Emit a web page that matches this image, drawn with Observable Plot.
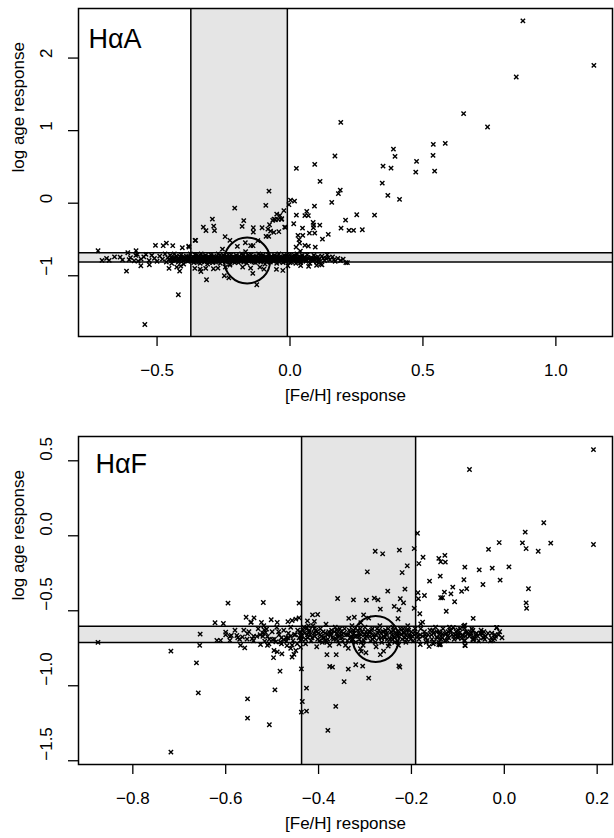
<!DOCTYPE html>
<html><head><meta charset="utf-8">
<script src="https://cdn.jsdelivr.net/npm/d3@7"></script>
<script src="https://cdn.jsdelivr.net/npm/@observablehq/plot@0.6"></script>
<style>
html,body{margin:0;padding:0;background:#fff;}
#chart{width:614px;}
#chart svg{display:block;}
</style></head><body><div id="chart"></div>
<script>
const FONT = "'Liberation Sans', Arial, Helvetica, sans-serif";
const panelTitles = ["HαA", "HαF"];
const xAxisTitle = "[Fe/H] response";
const yAxisTitle = "log age response";

const topXTicks = [-0.5, 0, 0.5, 1.0];
const topXTickLabels = ["−0.5", "0.0", "0.5", "1.0"];
const topYTicks = [-1, 0, 1, 2];
const topYTickLabels = ["−1", "0", "1", "2"];
const botXTicks = [-0.8, -0.6, -0.4, -0.2, 0, 0.2];
const botXTickLabels = ["−0.8", "−0.6", "−0.4", "−0.2", "0.0", "0.2"];
const botYTicks = [-1.5, -1, -0.5, 0, 0.5];
const botYTickLabels = ["−1.5", "−1.0", "−0.5", "0.0", "0.5"];

const topXDomain = [-0.7955, 1.213];
const topYDomain = [-1.837, 2.683];
const botXDomain = [-0.917, 0.233];
const botYDomain = [-1.525, 0.662];

const topVBand = [-0.373, -0.01];
const topHBand = [-0.812, -0.683];
const botVBand = [-0.4366, -0.191];
const botHBand = [-0.711, -0.603];
const topCircle = [-0.161, -0.789];
const botCircle = [-0.277, -0.688];

// HαA: scattered points
const haASpread = [
[0.876,2.512],[1.143,1.90],[0.851,1.739],[0.653,1.234],[0.743,1.05],[0.191,1.114],[0.539,0.811],[0.584,0.825],[0.389,0.746],[0.395,0.646],[0.538,0.659],[0.169,0.65],[0.093,0.535],[0.35,0.512],[0.38,0.484],[0.476,0.577],[0.473,0.429],[0.544,0.443],[0.113,0.301],[0.347,0.277],[0.189,0.181],[0.182,0.131],[0.368,0.108],[0.412,0.052],[0.157,0.011],[0.092,-0.04],
[0.024,0.48],[0.002,0.043],[0.017,0.029],[-0.004,-0.021],[-0.023,-0.103],[-0.031,-0.214],[0.063,-0.113],[0.024,-0.164],[0.056,-0.172],[0.069,-0.172],[0.251,-0.159],[0.318,-0.164],[0.209,-0.233],[0.014,-0.283],[0.087,-0.265],[0.089,-0.302],[0.088,-0.338],[0.112,-0.302],[-0.02,-0.33],[0.047,-0.343],[0.192,-0.343],[0.222,-0.375],[0.239,-0.375],[0.272,-0.366],[0.073,-0.412],[0.093,-0.412],[0.144,-0.43],[0.03,-0.444],[0.048,-0.444],[0.122,-0.495],[0.034,-0.503],[0.036,-0.55],[0.023,-0.605],[0.056,-0.582],[0.069,-0.591],[0.095,-0.605],[0.039,-0.66],[0.216,-0.82],
[-0.079,0.167],[-0.091,-0.03],[-0.208,-0.068],
[-0.292,-0.219],[-0.174,-0.241],[-0.05,-0.15],[-0.038,-0.168],[-0.06,-0.219],[-0.055,-0.228],[-0.044,-0.223],[-0.032,-0.223],
[-0.326,-0.33],[-0.316,-0.379],[-0.287,-0.316],[-0.284,-0.379],[-0.18,-0.32],[-0.138,-0.338],[-0.138,-0.399],[-0.105,-0.338],[-0.083,-0.357],[-0.077,-0.297],[-0.065,-0.237],[-0.073,-0.385],[-0.061,-0.403],[-0.042,-0.393],[-0.08,-0.458],[-0.09,-0.458],[-0.017,-0.334],
[-0.244,-0.462],[-0.355,-0.513],[-0.226,-0.513],[-0.168,-0.545],[-0.148,-0.586],[-0.139,-0.586],[-0.121,-0.517],[-0.381,-0.592],[-0.254,-0.633],[-0.198,-0.596],[-0.167,-0.669],
[-0.358,-0.899],[-0.338,-0.909],[-0.317,-0.899],[-0.288,-0.903],[-0.271,-0.895],[-0.243,-0.881],[-0.226,-0.854],[-0.178,-0.881],[-0.148,-0.895],[-0.113,-0.881],[-0.098,-0.909],[-0.051,-0.913],[-0.027,-0.927],[-0.008,-0.862],
[-0.335,-0.941],[-0.314,-1.055],[-0.247,-1.0],[-0.14,-0.968],[-0.125,-1.124],[-0.23,-1.028],
[-0.722,-0.655],[-0.707,-0.789],[-0.68,-0.789],[-0.639,-0.743],[-0.615,-0.937],[-0.61,-0.683],[-0.579,-0.655],[-0.574,-0.706],[-0.605,-0.779],[-0.586,-0.793],[-0.571,-0.799],[-0.542,-0.706],[-0.506,-0.582],[-0.465,-0.55],[-0.441,-0.586],[-0.405,-0.614],[-0.477,-0.586],[-0.546,-1.672],[-0.42,-1.262],[-0.561,-0.862],[-0.529,-0.848],[-0.455,-0.899],[-0.415,-0.937],[-0.411,-0.868],[-0.426,-0.881],[-0.38,-0.605],[-0.357,-0.513],
[0.04,-0.86],[0.07,-0.87],[0.1,-0.855],[0.12,-0.85]
];

// HαA: dense band of points
const haABand = [
[-0.69,-0.76],[-0.66,-0.74],[-0.63,-0.78],[-0.60,-0.75],[-0.58,-0.72],[-0.56,-0.77],[-0.55,-0.74],[-0.53,-0.79],[-0.52,-0.72],[-0.51,-0.76],[-0.50,-0.80],[-0.49,-0.73],[-0.48,-0.77],[-0.47,-0.70],[-0.465,-0.81],[-0.46,-0.75],
[-0.455,-0.78],[-0.45,-0.72],[-0.445,-0.83],[-0.44,-0.76],[-0.435,-0.70],[-0.43,-0.79],[-0.425,-0.74],[-0.42,-0.81],[-0.415,-0.77],[-0.41,-0.71],[-0.405,-0.75],[-0.40,-0.84],[-0.395,-0.78],[-0.39,-0.73],[-0.385,-0.80],[-0.38,-0.76],[-0.375,-0.70],
[-0.37,-0.79],[-0.366,-0.74],[-0.362,-0.82],[-0.358,-0.71],[-0.354,-0.77],[-0.35,-0.80],[-0.346,-0.73],[-0.342,-0.76],[-0.338,-0.83],[-0.334,-0.70],[-0.33,-0.78],[-0.326,-0.75],[-0.322,-0.81],[-0.318,-0.72],[-0.314,-0.77],[-0.31,-0.84],[-0.306,-0.74],[-0.302,-0.79],[-0.298,-0.71],[-0.294,-0.76],[-0.29,-0.82],[-0.286,-0.73],[-0.282,-0.78],[-0.278,-0.75],[-0.274,-0.80],[-0.27,-0.70],[-0.266,-0.77],[-0.262,-0.83],[-0.258,-0.74],[-0.254,-0.79],[-0.25,-0.72],[-0.246,-0.76],[-0.242,-0.81],[-0.238,-0.73],[-0.234,-0.78],[-0.23,-0.75],[-0.226,-0.84],[-0.222,-0.71],[-0.218,-0.77],[-0.214,-0.80],[-0.21,-0.74],[-0.206,-0.79],[-0.202,-0.72],[-0.198,-0.76],[-0.194,-0.82],[-0.19,-0.73],[-0.186,-0.78],[-0.182,-0.70],[-0.178,-0.75],[-0.174,-0.81],[-0.17,-0.77],[-0.166,-0.74],[-0.162,-0.83],[-0.158,-0.72],[-0.154,-0.79],[-0.15,-0.76],[-0.146,-0.71],[-0.142,-0.80],[-0.138,-0.74],[-0.134,-0.78],[-0.13,-0.82],[-0.126,-0.73],[-0.122,-0.77],[-0.118,-0.70],[-0.114,-0.75],[-0.11,-0.81],[-0.106,-0.76],[-0.102,-0.72],[-0.098,-0.79],[-0.094,-0.84],[-0.09,-0.74],[-0.086,-0.78],[-0.082,-0.71],[-0.078,-0.76],[-0.074,-0.81],[-0.07,-0.73],[-0.066,-0.77],[-0.062,-0.80],[-0.058,-0.72],[-0.054,-0.75],[-0.05,-0.83],[-0.046,-0.78],[-0.042,-0.70],[-0.038,-0.74],[-0.034,-0.79],[-0.03,-0.76],[-0.026,-0.82],[-0.022,-0.72],[-0.018,-0.77],[-0.014,-0.80],[-0.01,-0.74],[-0.006,-0.78],[-0.002,-0.71],[0.002,-0.76],[0.006,-0.81],[0.01,-0.73],[0.014,-0.78],[0.018,-0.75],[0.022,-0.83],[0.026,-0.70],[0.03,-0.77],[0.034,-0.80],[0.038,-0.74],[0.042,-0.79],[0.046,-0.72],[0.05,-0.76],
[-0.368,-0.77],[-0.36,-0.75],[-0.352,-0.72],[-0.344,-0.81],[-0.336,-0.76],[-0.328,-0.73],[-0.32,-0.79],[-0.312,-0.75],[-0.304,-0.82],[-0.296,-0.78],[-0.288,-0.74],[-0.28,-0.81],[-0.272,-0.76],[-0.264,-0.72],[-0.256,-0.80],[-0.248,-0.78],[-0.24,-0.75],[-0.232,-0.71],[-0.224,-0.79],[-0.216,-0.74],[-0.208,-0.82],[-0.2,-0.77],[-0.192,-0.75],[-0.184,-0.80],[-0.176,-0.72],[-0.168,-0.79],[-0.16,-0.76],[-0.152,-0.73],[-0.144,-0.77],[-0.136,-0.81],[-0.128,-0.75],[-0.12,-0.79],[-0.112,-0.72],[-0.104,-0.78],[-0.096,-0.75],[-0.088,-0.81],[-0.08,-0.77],[-0.072,-0.74],[-0.064,-0.79],[-0.056,-0.76],[-0.048,-0.73],[-0.04,-0.81],[-0.032,-0.77],[-0.024,-0.75],[-0.016,-0.79],[-0.008,-0.73],[0.0,-0.82],[0.008,-0.77],[0.016,-0.72],[0.024,-0.79],[0.032,-0.74],[0.04,-0.82],[0.048,-0.78],
[0.055,-0.74],[0.06,-0.80],[0.065,-0.71],[0.07,-0.77],[0.075,-0.83],[0.08,-0.75],[0.085,-0.79],[0.09,-0.72],[0.095,-0.78],[0.10,-0.81],[0.105,-0.74],[0.11,-0.77],[0.115,-0.84],[0.12,-0.73],[0.13,-0.79],[0.135,-0.76],[0.14,-0.71],[0.15,-0.78],[0.16,-0.74],[0.17,-0.80],[0.18,-0.76],[0.19,-0.79],[0.2,-0.77],[0.21,-0.82],
[-0.448,-0.75],[-0.438,-0.78],[-0.428,-0.73],[-0.418,-0.79],[-0.408,-0.77],[-0.398,-0.74],[-0.388,-0.77],[-0.378,-0.79],[-0.364,-0.78],[-0.356,-0.75],[-0.348,-0.78],[-0.34,-0.74],[-0.332,-0.80],[-0.324,-0.77],[-0.316,-0.74],[-0.308,-0.77],[-0.3,-0.75],[-0.292,-0.79],[-0.284,-0.76],[-0.276,-0.78],[-0.268,-0.74],[-0.26,-0.77],[-0.252,-0.75],[-0.244,-0.79],[-0.236,-0.76],[-0.228,-0.78],[-0.22,-0.75],[-0.212,-0.77],[-0.204,-0.75],[-0.196,-0.79],[-0.188,-0.76],[-0.18,-0.78],[-0.172,-0.75],[-0.164,-0.78],[-0.156,-0.75],[-0.148,-0.78],[-0.14,-0.76],[-0.132,-0.74],[-0.124,-0.79],[-0.116,-0.77],[-0.108,-0.74],[-0.1,-0.77],[-0.092,-0.76],[-0.084,-0.74],[-0.076,-0.79],[-0.068,-0.75],[-0.06,-0.77],[-0.052,-0.74],[-0.044,-0.77],[-0.036,-0.76],[-0.028,-0.78],[-0.02,-0.74],[-0.012,-0.77],[-0.004,-0.75],[0.004,-0.78],[0.012,-0.76],[0.02,-0.78],[0.028,-0.75],[0.036,-0.77],[0.044,-0.75],[0.058,-0.77],[0.068,-0.75],[0.078,-0.78],[0.088,-0.76],[0.098,-0.75],[0.108,-0.79],[0.125,-0.76],[0.145,-0.75],[0.165,-0.78],
[-0.446,-0.79],[-0.432,-0.76],[-0.422,-0.77],[-0.412,-0.74],[-0.402,-0.79],[-0.392,-0.76],[-0.382,-0.74],[-0.371,-0.76],[-0.361,-0.79],[-0.351,-0.76],[-0.343,-0.79],[-0.335,-0.77],[-0.327,-0.79],[-0.319,-0.76],[-0.311,-0.79],[-0.303,-0.76],[-0.295,-0.74],[-0.287,-0.77],[-0.279,-0.79],[-0.271,-0.78],[-0.263,-0.76],[-0.255,-0.77],[-0.247,-0.74],[-0.239,-0.77],[-0.231,-0.79],[-0.223,-0.76],[-0.215,-0.78],[-0.207,-0.76],[-0.199,-0.78],[-0.191,-0.77],[-0.183,-0.75],[-0.175,-0.78],[-0.167,-0.76],[-0.159,-0.79],[-0.151,-0.77],[-0.143,-0.75],[-0.135,-0.77],[-0.127,-0.79],[-0.119,-0.76],[-0.111,-0.78],[-0.103,-0.75],[-0.095,-0.77],[-0.087,-0.76],[-0.079,-0.78],[-0.071,-0.77],[-0.063,-0.75],[-0.055,-0.78],[-0.047,-0.76],[-0.039,-0.78],[-0.031,-0.75],[-0.023,-0.77],[-0.015,-0.76],[-0.007,-0.79],[0.001,-0.77],[0.009,-0.75],[0.017,-0.77],[0.027,-0.76],[0.037,-0.79],[0.047,-0.76],[0.062,-0.78],[0.082,-0.77],[0.102,-0.76]
];

// HαF: scattered points
const haFSpread = [
[0.192,0.575],[-0.075,0.442],[0.192,-0.058],[0.085,0.087],[0.045,0.024],[-0.011,-0.045],[0.039,-0.047],[0.047,-0.085],[0.1,-0.049],[0.073,-0.103],[-0.034,-0.091],[-0.187,0.017],[-0.194,-0.085],[-0.278,-0.103],[-0.262,-0.12],[-0.226,-0.096],[-0.175,-0.143],[-0.184,-0.185],[-0.141,-0.151],[-0.137,-0.173],[-0.128,-0.131],[-0.127,-0.176],[-0.209,-0.2],[-0.22,-0.245],[-0.295,-0.24],[-0.085,-0.209],[-0.054,-0.227],[-0.026,-0.216],[0.01,-0.207],[-0.138,-0.269],[-0.161,-0.302],[-0.087,-0.293],[-0.009,-0.296],[-0.046,-0.325],[0.052,-0.353],[-0.111,-0.342],[-0.081,-0.353],[-0.092,-0.371],[-0.115,-0.387],[-0.129,-0.376],[-0.214,-0.356],[-0.251,-0.369],[-0.224,-0.42],[-0.217,-0.447],[-0.359,-0.418],[-0.325,-0.427],[-0.297,-0.429],[-0.28,-0.416],[-0.272,-0.427],[-0.186,-0.38],[-0.185,-0.42],[-0.172,-0.398],[-0.137,-0.413],[-0.133,-0.413],[-0.107,-0.44],[-0.267,-0.489],[-0.227,-0.493],[-0.237,-0.471],[-0.125,-0.503],[0.047,-0.447],[0.048,-0.483],[-0.067,-0.551],[-0.194,-0.483],[-0.182,-0.52],[-0.413,-0.527],[-0.402,-0.525],[-0.424,-0.567],[-0.409,-0.571],[-0.335,-0.551],[-0.323,-0.543],[-0.303,-0.527],[-0.292,-0.549],[-0.309,-0.58],[-0.229,-0.553],[-0.016,-0.613],[-0.087,-0.603],[-0.176,-0.576],[-0.18,-0.587],
[-0.875,-0.711],[-0.718,-0.769],[-0.663,-0.847],[-0.659,-1.047],[-0.718,-1.443],[-0.553,-1.087],[-0.553,-1.216],[-0.506,-1.26],[-0.494,-1.027],[-0.483,-0.903],[-0.655,-0.656],[-0.656,-0.731],[-0.619,-0.698],[-0.611,-0.698],[-0.6,-0.643],[-0.591,-0.671],[-0.588,-0.665],[-0.591,-0.698],
[-0.437,-0.887],[-0.435,-1.105],[-0.437,-1.176],[-0.426,-1.169],[-0.426,-1.016],[-0.38,-1.298],[-0.363,-1.138],
[-0.345,-0.973],[-0.292,-0.949],[-0.336,-0.889],[-0.32,-0.86],[-0.305,-0.869],[-0.376,-0.871],[-0.37,-0.876],[-0.227,-0.867],[-0.225,-0.876],
[-0.382,-0.793],[-0.362,-0.793],[-0.308,-0.771],[-0.298,-0.78],[-0.267,-0.793],[-0.26,-0.769],[-0.25,-0.736],[-0.31,-0.753],
[-0.595,-0.449],[-0.519,-0.445],[-0.442,-0.449],[-0.497,-0.813],
[-0.556,-0.543],[-0.539,-0.547],[-0.546,-0.578],[-0.523,-0.578],[-0.502,-0.56],[-0.518,-0.6],[-0.512,-0.622],
[-0.489,-0.578],[-0.466,-0.573],[-0.457,-0.565],[-0.449,-0.556],[-0.442,-0.547],
[-0.623,-0.58],[-0.605,-0.585],[-0.545,-0.576]
];

// HαF: dense band of points
const haFBand = [
[-0.576,-0.665],[-0.574,-0.68],[-0.568,-0.731],[-0.559,-0.747],[-0.554,-0.689],[-0.553,-0.653],[-0.561,-0.629],[-0.564,-0.675],
[-0.543,-0.687],[-0.533,-0.671],[-0.525,-0.725],[-0.516,-0.703],[-0.51,-0.671],[-0.514,-0.645],[-0.517,-0.627],[-0.507,-0.72],[-0.499,-0.693],[-0.496,-0.765],[-0.489,-0.774],[-0.479,-0.787],[-0.492,-0.707],[-0.482,-0.707],[-0.475,-0.693],[-0.469,-0.703],[-0.468,-0.733],[-0.46,-0.751],[-0.457,-0.809],[-0.453,-0.791],[-0.449,-0.765],[-0.457,-0.729],[-0.446,-0.72],[-0.439,-0.698],[-0.437,-0.671],[-0.439,-0.743],
[-0.60,-0.66],[-0.58,-0.63],[-0.57,-0.69],[-0.55,-0.64],[-0.54,-0.70],[-0.53,-0.62],[-0.52,-0.67],[-0.51,-0.73],[-0.50,-0.64],[-0.495,-0.69],[-0.49,-0.61],[-0.485,-0.66],[-0.48,-0.72],[-0.475,-0.63],[-0.47,-0.68],[-0.465,-0.65],[-0.46,-0.61],[-0.455,-0.70],[-0.45,-0.66],[-0.445,-0.63],
[-0.44,-0.64],[-0.436,-0.69],[-0.432,-0.61],[-0.428,-0.72],[-0.424,-0.66],[-0.42,-0.63],[-0.416,-0.70],[-0.412,-0.60],[-0.408,-0.67],[-0.404,-0.74],[-0.40,-0.65],[-0.396,-0.62],[-0.392,-0.71],[-0.388,-0.68],[-0.384,-0.59],[-0.38,-0.66],[-0.376,-0.73],[-0.372,-0.63],[-0.368,-0.69],[-0.364,-0.61],[-0.36,-0.67],[-0.356,-0.72],[-0.352,-0.64],[-0.348,-0.70],[-0.344,-0.62],[-0.34,-0.66],[-0.336,-0.75],[-0.332,-0.68],[-0.328,-0.60],[-0.324,-0.65],[-0.32,-0.71],[-0.316,-0.63],[-0.312,-0.69],[-0.308,-0.66],[-0.304,-0.73],[-0.30,-0.61],[-0.296,-0.67],[-0.292,-0.64],[-0.288,-0.70],[-0.284,-0.62],[-0.28,-0.68],[-0.276,-0.74],[-0.272,-0.65],[-0.268,-0.60],[-0.264,-0.71],[-0.26,-0.67],[-0.256,-0.63],[-0.252,-0.69],[-0.248,-0.72],[-0.244,-0.64],[-0.24,-0.61],[-0.236,-0.68],[-0.232,-0.66],[-0.228,-0.73],[-0.224,-0.62],[-0.22,-0.69],[-0.216,-0.65],[-0.212,-0.71],[-0.208,-0.60],[-0.204,-0.67],[-0.20,-0.64],[-0.196,-0.70],[-0.192,-0.62],
[-0.438,-0.67],[-0.43,-0.65],[-0.422,-0.60],[-0.414,-0.68],[-0.406,-0.63],[-0.398,-0.70],[-0.39,-0.64],[-0.382,-0.71],[-0.374,-0.66],[-0.366,-0.64],[-0.358,-0.70],[-0.35,-0.66],[-0.342,-0.73],[-0.334,-0.63],[-0.326,-0.69],[-0.318,-0.67],[-0.31,-0.62],[-0.302,-0.70],[-0.294,-0.66],[-0.286,-0.63],[-0.278,-0.71],[-0.27,-0.68],[-0.262,-0.64],[-0.254,-0.66],[-0.246,-0.69],[-0.238,-0.63],[-0.23,-0.70],[-0.222,-0.66],[-0.214,-0.68],[-0.206,-0.63],[-0.198,-0.67],
[-0.434,-0.63],[-0.418,-0.66],[-0.402,-0.69],[-0.386,-0.65],[-0.37,-0.68],[-0.354,-0.62],[-0.338,-0.70],[-0.322,-0.67],[-0.306,-0.64],[-0.29,-0.67],[-0.274,-0.62],[-0.258,-0.68],[-0.242,-0.66],[-0.226,-0.64],[-0.21,-0.69],[-0.194,-0.66],
[-0.188,-0.65],[-0.184,-0.69],[-0.18,-0.62],[-0.176,-0.67],[-0.172,-0.64],[-0.168,-0.71],[-0.164,-0.66],[-0.16,-0.63],[-0.156,-0.69],[-0.152,-0.65],[-0.148,-0.61],[-0.144,-0.68],[-0.14,-0.64],[-0.136,-0.67],[-0.132,-0.62],[-0.128,-0.70],[-0.124,-0.65],[-0.12,-0.68],[-0.116,-0.63],[-0.112,-0.66],[-0.108,-0.69],[-0.104,-0.64],[-0.10,-0.67],[-0.095,-0.62],[-0.09,-0.66],[-0.085,-0.70],[-0.08,-0.64],[-0.075,-0.67],[-0.07,-0.62],[-0.065,-0.68],[-0.06,-0.65],[-0.055,-0.70],[-0.05,-0.63],[-0.04,-0.67],[-0.035,-0.65],[-0.03,-0.70],[-0.02,-0.66],[-0.01,-0.64],[-0.005,-0.68],
[-0.118,-0.609],[-0.110,-0.613],[-0.116,-0.636],[-0.1,-0.627],[-0.085,-0.596],[-0.086,-0.618],[-0.068,-0.631],[-0.084,-0.64],[-0.073,-0.66],[-0.09,-0.665],[-0.101,-0.653],[-0.1,-0.68],[-0.092,-0.685],[-0.086,-0.698],[-0.067,-0.694],[-0.066,-0.689],[-0.049,-0.649],[-0.045,-0.68],[-0.047,-0.654],[-0.024,-0.698],[-0.021,-0.685],[-0.017,-0.613],[-0.127,-0.656],[-0.133,-0.653],[-0.123,-0.698],[-0.141,-0.711],[-0.138,-0.727],[-0.084,-0.733],[-0.162,-0.738],[-0.153,-0.72],[-0.146,-0.676],[-0.137,-0.689],
[-0.138,-0.72],[-0.085,-0.731],[-0.068,-0.691],[-0.046,-0.68],[-0.052,-0.649],[-0.019,-0.671],[-0.016,-0.613],[-0.068,-0.631],[-0.11,-0.613],[-0.087,-0.603],[-0.166,-0.698],[-0.152,-0.707],[-0.141,-0.725],[-0.181,-0.725],
[-0.442,-0.68],[-0.426,-0.62],[-0.41,-0.65],[-0.394,-0.67],[-0.378,-0.64],[-0.362,-0.69],[-0.346,-0.65],[-0.33,-0.67],[-0.314,-0.65],[-0.298,-0.64],[-0.282,-0.66],[-0.266,-0.65],[-0.25,-0.62],[-0.234,-0.65],[-0.218,-0.62],[-0.202,-0.69],[-0.186,-0.67],[-0.17,-0.66],[-0.154,-0.63],[-0.138,-0.65],[-0.122,-0.67],[-0.106,-0.66],[-0.078,-0.65],[-0.062,-0.66],[-0.044,-0.64],[-0.028,-0.68],[-0.012,-0.66],[-0.428,-0.69],[-0.404,-0.64],[-0.38,-0.69],[-0.356,-0.67],[-0.332,-0.64],[-0.308,-0.71],[-0.284,-0.69],[-0.26,-0.64],[-0.236,-0.71],[-0.212,-0.66],[-0.526,-0.66],[-0.506,-0.69],[-0.486,-0.64],[-0.466,-0.68],[-0.452,-0.66],
[-0.437,-0.66],[-0.423,-0.68],[-0.409,-0.62],[-0.397,-0.66],[-0.385,-0.70],[-0.373,-0.65],[-0.361,-0.63],[-0.349,-0.68],[-0.337,-0.66],[-0.325,-0.63],[-0.313,-0.67],[-0.301,-0.66],[-0.289,-0.64],[-0.277,-0.66],[-0.265,-0.68],[-0.253,-0.65],[-0.241,-0.69],[-0.229,-0.67],[-0.217,-0.64],[-0.205,-0.66],[-0.193,-0.64],[-0.181,-0.66],[-0.169,-0.68],[-0.157,-0.66],[-0.145,-0.64],[-0.133,-0.68],[-0.121,-0.64],[-0.109,-0.67],[-0.097,-0.65],[-0.083,-0.67],[-0.071,-0.65],[-0.057,-0.67],[-0.042,-0.69],[-0.027,-0.65],[-0.48,-0.68],[-0.46,-0.67],[-0.52,-0.65],[-0.54,-0.67],[-0.42,-0.64],[-0.39,-0.68],[-0.36,-0.65],[-0.33,-0.70],[-0.30,-0.68],[-0.27,-0.63],[-0.24,-0.67],[-0.21,-0.63]
];

function panel(p) {
  const fmtX = d => p.xLabels[p.xTicks.indexOf(d)];
  const pts = p.points;
  return Plot.plot({
    width: 614, height: 419,
    marginLeft: 78, marginRight: 2, marginTop: p.mt, marginBottom: p.mb,
    x: {domain: p.xDomain},
    y: {domain: p.yDomain},
    style: {fontFamily: FONT, fontSize: "17px", background: "white", color: "black", overflow: "visible"},
    marks: [
      Plot.rect([p.vBand], {x1: d => d[0], x2: d => d[1], fill: "#e5e5e5"}),
      Plot.rect([p.hBand], {y1: d => d[0], y2: d => d[1], fill: "#e5e5e5"}),
      Plot.ruleX(p.vBand, {x: d => d, stroke: "black", strokeWidth: 1.5}),
      Plot.ruleY(p.hBand, {y: d => d, stroke: "black", strokeWidth: 1.5}),
      Plot.dot(pts, {x: d => d[0], y: d => d[1], symbol: "times", r: 2.1, stroke: "black", strokeWidth: 1.4}),
      Plot.dot([p.circle], {x: d => d[0], y: d => d[1], r: 23, stroke: "black", strokeWidth: 2, fill: "none"}),
      Plot.frame({stroke: "black", strokeWidth: 1.5}),
      Plot.axisX({ticks: p.xTicks, tickSize: 10, tickPadding: 17, tickFormat: fmtX, label: null, fontSize: 17, stroke: "black", strokeWidth: 1.3}),
      Plot.axisY({ticks: p.yTicks, tickSize: 10, tickFormat: () => "", label: null, stroke: "black", strokeWidth: 1.3}),
      Plot.text(p.yTicks, {y: d => d, text: (d, i) => p.yLabels[i], frameAnchor: "left", dx: -31.5, rotate: -90, fontSize: 17, fill: "black"}),
      Plot.text([p.title], {text: d => d, frameAnchor: "top-left", dx: p.tdx, dy: p.tdy, lineAnchor: "top", textAnchor: "start", fontSize: 27, fill: "black"}),
      Plot.text([xAxisTitle], {text: d => d, frameAnchor: "bottom", dy: 64, fontSize: 17, fill: "black"}),
      Plot.text([yAxisTitle], {text: d => d, frameAnchor: "left", dx: -60, rotate: -90, fontSize: 17, fill: "black"})
    ]
  });
}

const chart = document.getElementById("chart");
chart.appendChild(panel({
  title: panelTitles[0], tdx: 10, tdy: 20, mt: 8, mb: 83,
  xDomain: topXDomain, yDomain: topYDomain,
  xTicks: topXTicks, xLabels: topXTickLabels, yTicks: topYTicks, yLabels: topYTickLabels,
  vBand: topVBand, hBand: topHBand, circle: topCircle,
  points: haABand.concat(haASpread)
}));
chart.appendChild(panel({
  title: panelTitles[1], tdx: 17, tdy: 17, mt: 17, mb: 74,
  xDomain: botXDomain, yDomain: botYDomain,
  xTicks: botXTicks, xLabels: botXTickLabels, yTicks: botYTicks, yLabels: botYTickLabels,
  vBand: botVBand, hBand: botHBand, circle: botCircle,
  points: haFBand.concat(haFSpread)
}));
</script></body></html>
